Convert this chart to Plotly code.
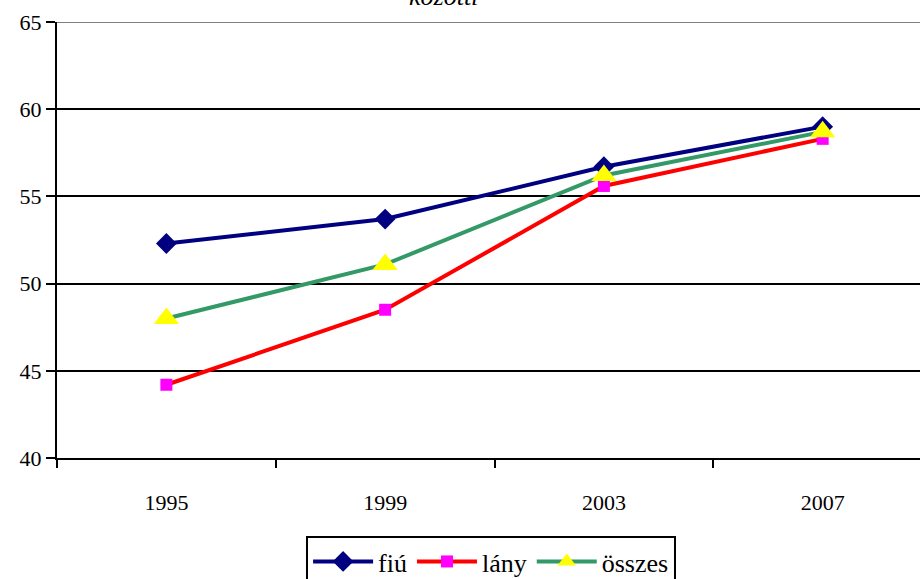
import plotly.graph_objects as go

# Years on the category axis
years = ["1995", "1999", "2003", "2007"]

# Series values
fiu = [52.3, 53.7, 56.7, 59.0]
lany = [44.2, 48.5, 55.6, 58.3]
osszes = [48.0, 51.1, 56.2, 58.7]

y_ticks = [40, 45, 50, 55, 60, 65]

FONT = "Liberation Serif"

fig = go.Figure()

fig.add_trace(go.Scatter(
    x=years, y=fiu, name="fiú", mode="lines+markers",
    line=dict(color="#000080", width=4),
    marker=dict(symbol="diamond", size=16, color="#000080"),
))
fig.add_trace(go.Scatter(
    x=years, y=lany, name="lány", mode="lines+markers",
    line=dict(color="#FF0000", width=4),
    marker=dict(symbol="square", size=12, color="#FF00FF"),
))
fig.add_trace(go.Scatter(
    x=years, y=osszes, name="összes", mode="lines+markers",
    line=dict(color="#339966", width=4),
    marker=dict(symbol="triangle-up", size=22, color="#FFFF00"),
))

# Top border of the plot area
fig.add_shape(type="line", xref="paper", yref="y", x0=0, x1=1, y0=65, y1=65,
              line=dict(color="#808080", width=2), layer="above")

# Title, partially outside the top of the canvas
fig.add_annotation(text="<i>közötti</i>", xref="paper", yref="paper",
                   x=0.448, y=1.0, yshift=9, xanchor="center", yanchor="bottom",
                   showarrow=False, font=dict(family=FONT, size=26, color="black"))

fig.update_layout(
    width=920, height=579,
    margin=dict(l=57, r=0, t=22, b=121, autoexpand=False),
    paper_bgcolor="white", plot_bgcolor="white",
    font=dict(family=FONT, size=21, color="black"),
    showlegend=True,
    legend=dict(
        orientation="h", x=0.503, y=-0.179, xanchor="center", yanchor="top",
        bordercolor="black", borderwidth=2, bgcolor="white",
        font=dict(family=FONT, size=26, color="black"),
        itemwidth=60, tracegroupgap=0,
    ),
    xaxis=dict(
        type="category", range=[-0.5, 3.445],
        showgrid=False, showline=True, linecolor="black", linewidth=2,
        ticks="outside", tickson="boundaries", ticklen=8, tickwidth=2,
        tickcolor="black", ticklabelstandoff=24,
        tickfont=dict(family=FONT, size=22, color="black"),
        zeroline=False,
    ),
    yaxis=dict(
        range=[40, 65], tickvals=y_ticks,
        showgrid=True, gridcolor="black", gridwidth=2,
        showline=True, linecolor="black", linewidth=2,
        ticks="outside", ticklen=9, tickwidth=2, tickcolor="black",
        tickfont=dict(family=FONT, size=22, color="black"),
        zeroline=False,
    ),
)

fig.write_html("out.html")
